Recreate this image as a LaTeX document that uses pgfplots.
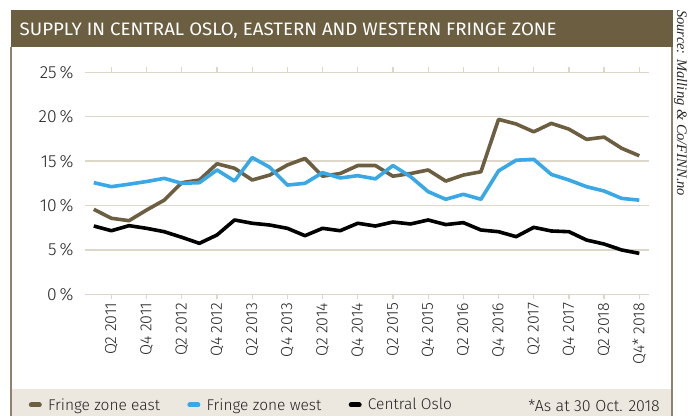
\documentclass[border=0pt]{standalone}
\usepackage{pgfplots}
\pgfplotsset{compat=1.18}
\usepackage{pgfplotstable}
\usepackage{graphicx}
\usepackage{fontspec}
\setmainfont{Fira Sans Light}
\newfontfamily\titlefont{Fira Sans}
\newfontfamily\srcfont{Liberation Serif}
\definecolor{olive}{HTML}{6B5E41}
\definecolor{bluel}{HTML}{38A8E6}
\definecolor{gridc}{HTML}{DDD7CA}
\definecolor{legbg}{HTML}{ECE7DF}
\definecolor{framec}{HTML}{8C826D}
\definecolor{tickc}{HTML}{222222}

\pgfplotstableread{
x east west central
0 9.57 12.57 7.69
1 8.56 12.12 7.16
2 8.29 12.40 7.73
3 9.49 12.70 7.43
4 10.60 13.06 7.05
5 12.57 12.50 6.42
6 12.87 12.57 5.74
7 14.70 14.00 6.68
8 14.19 12.76 8.37
9 12.87 15.40 8.00
10 13.43 14.30 7.80
11 14.56 12.30 7.43
12 15.30 12.50 6.60
13 13.30 13.70 7.43
14 13.60 13.10 7.16
15 14.50 13.36 8.00
16 14.50 13.00 7.69
17 13.30 14.50 8.14
18 13.60 13.25 7.92
19 14.00 11.56 8.37
20 12.75 10.70 7.85
21 13.43 11.26 8.07
22 13.80 10.70 7.24
23 19.70 13.90 7.05
24 19.18 15.10 6.49
25 18.30 15.20 7.54
26 19.25 13.50 7.13
27 18.60 12.87 7.05
28 17.45 12.12 6.11
29 17.70 11.63 5.66
30 16.44 10.80 4.99
31 15.60 10.60 4.61
}\datatable

\begin{document}
\begin{tikzpicture}[x=1pt,y=1pt]
\path[use as bounding box] (0,0) rectangle (689,416);
\fill[white] (0,0) rectangle (689,416);
% title bar
\fill[olive] (11,369) rectangle (672.5,406);
\node[anchor=base west, inner sep=0pt, text=white] at (19.5,380.3)
  {\resizebox{537pt}{\height}{\titlefont\fontsize{18pt}{20pt}\selectfont SUPPLY IN CENTRAL OSLO, EASTERN AND WESTERN FRINGE ZONE}};
% legend bar
\fill[legbg] (11,0) rectangle (672,27);
% frame lines
\draw[framec, line width=1.2pt] (11,369) -- (11,0);
\draw[framec, line width=1.2pt] (672,369) -- (672,0);
% source
\node[rotate=-90, anchor=base west, inner sep=0pt, text=black!85] at (677,406)
  {\srcfont\itshape\fontsize{14.5pt}{17pt}\selectfont Source: Malling \& Co/FINN.no};
\node[anchor=base east, inner sep=0pt, text=tickc] at (660,5)
  {\fontsize{16pt}{18pt}\selectfont *As at 30 Oct. 2018};

\begin{axis}[
  at={(85pt,121.7pt)}, anchor=south west,
  scale only axis, width=564pt, height=222pt,
  xmin=-0.5, xmax=31.55, ymin=0, ymax=25,
  axis line style={draw=none},
  ytick={0,5,...,25},
  /pgf/number format/assume math mode=true,
  yticklabel={\pgfmathprintnumber{\tick}\,\%},
  yticklabel style={font=\fontsize{17.5pt}{19pt}\selectfont, text=tickc, xshift=-3pt},
  ymajorgrids, grid style={draw=gridc, line width=1.3pt},
  xtick={1,3,...,31},
  xticklabels={Q2 2011,Q4 2011,Q2 2012,Q4 2012,Q2 2013,Q4 2013,Q2 2014,Q4 2014,Q2 2015,Q4 2015,Q2 2016,Q4 2016,Q2 2017,Q4 2017,Q2 2018,Q4* 2018},
  x tick label style={rotate=90, anchor=east, font=\fontsize{16pt}{18pt}\selectfont, text=tickc},
  tick align=outside, major tick length=5pt,
  xtick style={draw=gridc, line width=1.3pt},
  ytick style={draw=none},
  legend columns=3,
  legend style={at={(-0.1028,-0.4986)}, anchor=west, draw=none, fill=none,
    inner sep=0pt, outer sep=0pt,
    font=\fontsize{15.5pt}{18pt}\selectfont, text=tickc,
    /tikz/every even column/.append style={column sep=21pt},
    nodes={inner xsep=4.5pt}},
  legend image code/.code={\path (0pt,0pt) (13pt,0pt);
    \draw[#1, line width=5pt, line cap=round] (2.5pt,0pt) -- (10.5pt,0pt);},
  clip=false,
]
\addplot[olive, line width=3.6pt, line join=round] table[x=x, y=east] {\datatable};
\addlegendentry{Fringe zone east}
\addplot[bluel, line width=3.6pt, line join=round] table[x=x, y=west] {\datatable};
\addlegendentry{Fringe zone west}
\addplot[black, line width=3.6pt, line join=round] table[x=x, y=central] {\datatable};
\addlegendentry{Central Oslo}
\end{axis}
\end{tikzpicture}
\end{document}
